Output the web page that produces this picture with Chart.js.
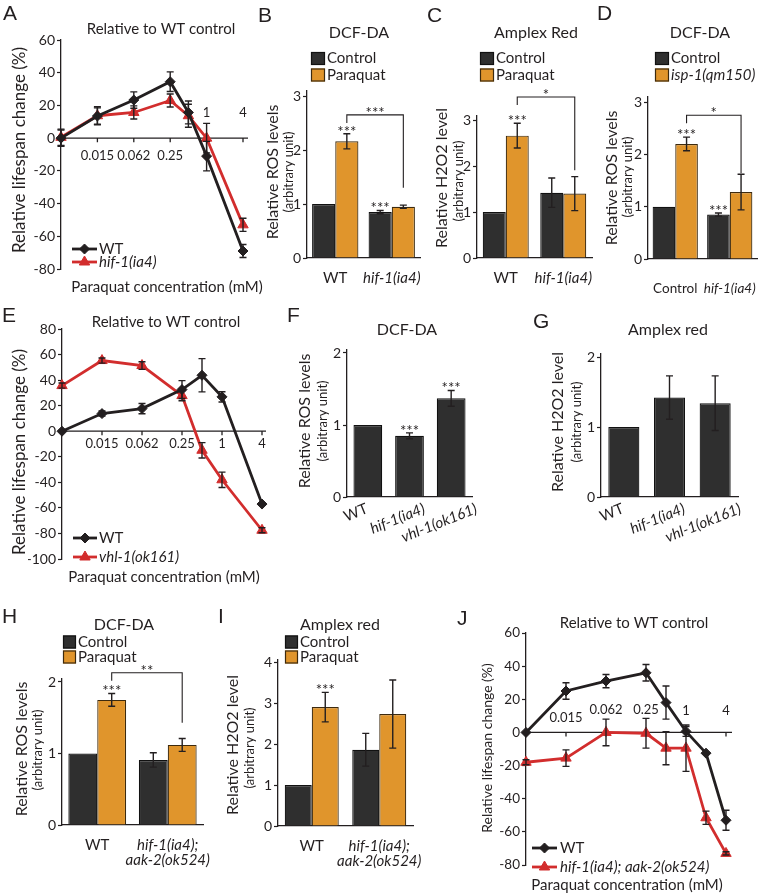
<!DOCTYPE html>
<html>
<head>
<meta charset="utf-8">
<title>Paraquat / ROS panels</title>
<script src="https://cdn.jsdelivr.net/npm/chart.js@4.4.1/dist/chart.umd.min.js"></script>
<style>
  html, body { margin: 0; background: #fff; }
  #fig { position: relative; width: 760px; height: 896px; overflow: hidden; background: #fff; }
  #fig canvas { position: absolute; left: 0; top: 0; }
</style>
</head>
<body>
<div id="fig"></div>
<script>
// ---- values ----

// lifespan panels: position of each dose on the (log4) dose axis, 0 = no paraquat
const doseSteps = [0, 1, 2, 3, 3.5, 4, 5];
const doseStepsJ = [0, 1, 2, 3, 3.5, 4, 4.5, 5];
const doseTickSteps = [1, 2, 3, 4, 5];
const doseTickLabels = ['0.015', '0.062', '0.25', '1', '4'];
const lifeTicks = [-80, -60, -40, -20, 0, 20, 40, 60];
const lifeTicksE = [-100, -80, -60, -40, -20, 0, 20, 40, 60, 80];

// A  hif-1(ia4) vs WT
const aWT = [0, 13.5, 23.3, 34.5, 15.7, -11, -69];
const aWTErr = [5, 5, 5, 6, 7, 9, 4];
const aHif = [0.5, 13.7, 15.7, 23, 13.7, 0, -53];
const aHifErr = [5, 5.5, 4, 4, 7, 9, 4];

// E  vhl-1(ok161) vs WT
const eWT = [0, 13.8, 17.7, 32.6, 43.8, 26.9, -57];
const eWTErr = [0, 2, 4, 7, 13, 4, 1];
const eVhl = [35.7, 55.3, 51.4, 27.9, -14.9, -38, -77.5];
const eVhlErr = [2, 2, 3, 4, 6, 6, 2];

// J  hif-1(ia4); aak-2(ok524) vs WT
const jWT = [0, 25, 31, 36, 18, 0.6, -12.5, -53];
const jWTErr = [0, 5, 4, 5, 10, 3, 0, 6];
const jDouble = [-18, -15.5, 0, -0.5, -9.5, -9.5, -51.5, -73];
const jDoubleErr = [1.5, 5, 8, 9, 10, 14, 4, 1];

// bar panels
const rosTicks3 = [0, 1, 2, 3];
const rosTicks2 = [0, 1, 2];
const h2o2Ticks4 = [0, 1, 2, 3, 4];

const bStrains = ['WT', 'hif-1(ia4)'];
const bControl = [1, 0.85];
const bControlErr = [0, 0.03];
const bParaquat = [2.16, 0.95];
const bParaquatErr = [0.14, 0.03];

const cStrains = ['WT', 'hif-1(ia4)'];
const cControl = [1, 1.42];
const cControlErr = [0, 0.32];
const cParaquat = [2.66, 1.40];
const cParaquatErr = [0.27, 0.37];

const dStrains = ['Control', 'hif-1(ia4)'];
const dControl = [1, 0.85];
const dControlErr = [0, 0.03];
const dIsp = [2.2, 1.28];
const dIspErr = [0.13, 0.34];

const fgStrains = ['WT', 'hif-1(ia4)', 'vhl-1(ok161)'];
const fRos = [1, 0.85, 1.37];
const fRosErr = [0, 0.04, 0.11];
const gH2o2 = [1, 1.42, 1.34];
const gH2o2Err = [0, 0.31, 0.39];

const hiStrains = ['WT', ['hif-1(ia4);', 'aak-2(ok524)']];
const hControl = [1, 0.91];
const hControlErr = [0, 0.1];
const hParaquat = [1.75, 1.12];
const hParaquatErr = [0.09, 0.09];
const iControl = [1, 1.86];
const iControlErr = [0, 0.4];
const iParaquat = [2.9, 2.73];
const iParaquatErr = [0.36, 0.83];

// ---- styling ----
const W = 760, H = 896;
const FONT = 'Lato, "Open Sans", sans-serif';
const LETTER_FONT = '"Liberation Sans", Arial, sans-serif';
const INK = '#231f20';
const DARK = '#2f2f2f';
const ORANGE = '#e0952c';
const ORANGE_EDGE = '#3d2a0e';
const RED = '#d22d2d';
const ROT = -Math.PI / 2;

const isGene = s => /\(/.test(String(s));

function addCanvas() {
  const c = document.createElement('canvas');
  c.width = W;
  c.height = H;
  document.getElementById('fig').appendChild(c);
  return c;
}

function label(ctx, s, x, y, o = {}) {
  ctx.save();
  ctx.font = `${o.italic ? 'italic ' : ''}${o.size || 14}px ${o.family || FONT}`;
  ctx.fillStyle = INK;
  ctx.textAlign = o.align || 'center';
  ctx.textBaseline = o.base || 'middle';
  ctx.translate(x, y);
  if (o.rot) ctx.rotate(o.rot);
  ctx.fillText(s, 0, 0);
  ctx.restore();
}

function errBar(ctx, x, top, bot) {
  ctx.save();
  ctx.strokeStyle = INK;
  ctx.lineWidth = 1.4;
  ctx.beginPath();
  ctx.moveTo(x, top); ctx.lineTo(x, bot);
  ctx.moveTo(x - 3.5, top); ctx.lineTo(x + 3.5, top);
  ctx.moveTo(x - 3.5, bot); ctx.lineTo(x + 3.5, bot);
  ctx.stroke();
  ctx.restore();
}

function marker(ctx, style, r, color, x, y) {
  ctx.save();
  ctx.fillStyle = color;
  ctx.strokeStyle = color;
  Chart.helpers.drawPoint(ctx, { pointStyle: style, radius: r, rotation: 0, borderWidth: 1 }, x, y);
  ctx.restore();
}

// draws everything that is not a bar / line: error bars, stars, brackets, legends, titles
function decor(p) {
  return {
    id: 'decor',
    beforeDatasetsDraw(chart) {
      const d = p.doseAxis;
      if (!d) return;
      const { ctx, scales: { x, y } } = chart;
      const y0 = y.getPixelForValue(0);
      ctx.save();
      ctx.strokeStyle = INK;
      ctx.lineWidth = 1.3;
      ctx.beginPath();
      ctx.moveTo(x.left, y0);
      ctx.lineTo(x.right + d.extend, y0);
      d.ticks.forEach(v => {
        const px = x.getPixelForValue(v);
        ctx.moveTo(px, y0);
        ctx.lineTo(px, y0 + 4);
      });
      ctx.stroke();
      ctx.restore();
      d.ticks.forEach((v, i) => label(ctx, d.labels[i], x.getPixelForValue(v), y0 + d.dy[i], { size: 13 }));
    },
    afterDatasetsDraw(chart) {
      const { ctx, scales: { x, y } } = chart;
      chart.data.datasets.forEach((ds, di) => {
        const meta = chart.getDatasetMeta(di);
        (ds.errors || []).forEach((e, i) => {
          if (!e) return;
          const v = ds.data[i];
          const val = typeof v === 'number' ? v : v.y;
          errBar(ctx, meta.data[i].x, y.getPixelForValue(val + e), y.getPixelForValue(val - e));
        });
      });
      (p.stars || []).forEach(s => {
        const ds = chart.data.datasets[s.ds];
        const el = chart.getDatasetMeta(s.ds).data[s.i];
        const top = y.getPixelForValue(ds.data[s.i] + (ds.errors[s.i] || 0));
        label(ctx, s.t, el.x, top + 3, { size: 15, base: 'alphabetic' });
      });
      (p.brackets || []).forEach(b => {
        const a = chart.getDatasetMeta(b.from[0]).data[b.from[1]];
        const c = chart.getDatasetMeta(b.to[0]).data[b.to[1]];
        const yb = y.getPixelForValue(b.y);
        const yd = y.getPixelForValue(b.drop);
        ctx.save();
        ctx.strokeStyle = INK;
        ctx.lineWidth = 1.1;
        ctx.beginPath();
        ctx.moveTo(a.x, yb + 8);
        ctx.lineTo(a.x, yb);
        ctx.lineTo(c.x, yb);
        ctx.lineTo(c.x, yd);
        ctx.stroke();
        ctx.restore();
        label(ctx, b.t, (a.x + c.x) / 2, yb + 3, { size: 15, base: 'alphabetic' });
      });
      if (p.rotLabels) {
        const r = p.rotLabels;
        const ang = r.deg * Math.PI / 180;
        ctx.save();
        chart.data.labels.forEach((s, i) => {
          ctx.font = `${isGene(s) ? 'italic ' : ''}${r.size}px ${FONT}`;
          const w = ctx.measureText(s).width;
          const cx = x.getPixelForValue(i) + r.dx;
          const cy = y.bottom + r.dy + (w / 2) * Math.sin(ang);
          label(ctx, s, cx, cy, { size: r.size, italic: isGene(s), rot: -ang });
        });
        ctx.restore();
      }
    },
    afterDraw(chart) {
      const ctx = chart.ctx;
      const L = p.letter;
      label(ctx, L[0], L[1], L[2], { size: 21, family: LETTER_FONT, align: 'left', base: 'alphabetic' });
      (p.texts || []).forEach(t => label(ctx, t.t, t.x, t.y, t));
      const lg = p.boxLegend;
      if (lg) {
        lg.rows.forEach((row, i) => {
          const ds = chart.data.datasets[i];
          ctx.save();
          ctx.fillStyle = ds.backgroundColor;
          ctx.strokeStyle = ds.borderColor;
          ctx.lineWidth = 1.2;
          ctx.fillRect(lg.x, row - lg.h / 2, lg.w, lg.h);
          ctx.strokeRect(lg.x + 0.5, row - lg.h / 2 + 0.5, lg.w - 1, lg.h - 1);
          ctx.restore();
          label(ctx, ds.label, lg.x + lg.w + 2, row, { size: lg.size, align: 'left', italic: isGene(ds.label) });
        });
      }
      const ll = p.lineLegend;
      if (ll) {
        ll.rows.forEach((row, i) => {
          const ds = chart.data.datasets[i];
          ctx.save();
          ctx.strokeStyle = ds.borderColor;
          ctx.lineWidth = 2.8;
          ctx.beginPath();
          ctx.moveTo(ll.x0, row);
          ctx.lineTo(ll.x1, row);
          ctx.stroke();
          ctx.restore();
          marker(ctx, ds.pointStyle, ds.pointRadius, ds.borderColor, (ll.x0 + ll.x1) / 2, row);
          label(ctx, ds.label, ll.tx, row, { size: 15, align: 'left', italic: isGene(ds.label) });
        });
      }
    }
  };
}

function yAxis(min, max, tickVals, width, size) {
  return {
    min, max,
    afterBuildTicks: s => { s.ticks = tickVals.map(v => ({ value: v })); },
    afterFit: s => { s.width = width; s.paddingTop = 0; s.paddingBottom = 0; },
    grid: { display: true, drawOnChartArea: false, drawTicks: true, tickLength: 4, tickColor: INK, tickWidth: 1.2 },
    border: { display: true, color: INK, width: 1.3 },
    ticks: { color: INK, padding: 2, font: { family: FONT, size: size || 14 } }
  };
}

function baseOptions(p, yW, xH, scales) {
  return {
    responsive: false,
    animation: false,
    devicePixelRatio: 1,
    events: [],
    layout: { padding: { left: p.area.left - yW, right: W - p.area.right, top: p.area.top, bottom: H - p.area.bottom - xH } },
    plugins: { legend: { display: false }, tooltip: { enabled: false } },
    scales
  };
}

function lineChart(p) {
  const yW = 34;
  const datasets = p.series.map(s => ({
    label: s.name,
    data: p.steps.map((st, i) => ({ x: st, y: s.values[i] })),
    errors: s.errors,
    borderColor: s.color,
    backgroundColor: s.color,
    borderWidth: 2.8,
    pointStyle: s.point,
    pointRadius: s.r,
    pointBackgroundColor: s.color,
    pointBorderColor: s.color,
    pointBorderWidth: 1,
    tension: 0,
    clip: false
  }));
  new Chart(addCanvas(), {
    type: 'line',
    data: { datasets },
    options: baseOptions(p, yW, 0, {
      x: { type: 'linear', min: 0, max: p.steps[p.steps.length - 1], display: false },
      y: yAxis(p.yMin, p.yMax, p.yTicks, yW, p.tickSize)
    }),
    plugins: [decor(p)]
  });
}

function barChart(p) {
  const yW = 30, xH = 46;
  const datasets = p.series.map(s => ({
    label: s.name,
    data: s.values,
    errors: s.errors,
    backgroundColor: s.fill,
    borderColor: s.edge,
    borderWidth: 1.2,
    borderSkipped: 'start',
    categoryPercentage: p.catPct,
    barPercentage: 1
  }));
  new Chart(addCanvas(), {
    type: 'bar',
    data: { labels: p.labels, datasets },
    options: baseOptions(p, yW, xH, {
      x: {
        type: 'category',
        offset: true,
        grid: { display: false },
        border: { display: true, color: INK, width: 1.3 },
        afterFit: s => { s.height = xH; s.paddingLeft = 0; s.paddingRight = 0; },
        ticks: {
          display: !p.rotLabels,
          autoSkip: false,
          minRotation: 0,
          maxRotation: 0,
          color: INK,
          padding: p.xPad || 4,
          font: c => ({ family: FONT, size: p.xSize || 15, lineHeight: 1.05, style: isGene(p.labels[c.index]) ? 'italic' : 'normal' })
        }
      },
      y: yAxis(0, p.yMax, p.yTicks, yW)
    }),
    plugins: [decor(p)]
  });
}

const control = (values, errors) => ({ name: 'Control', values, errors, fill: DARK, edge: '#111' });
const treated = (name, values, errors) => ({ name, values, errors, fill: ORANGE, edge: ORANGE_EDGE });
const yTitle = (t, x, y, size) => ({ t, x, y, size, rot: ROT });

// ---------- A ----------
lineChart({
  area: { left: 61, right: 243, top: 40, bottom: 269 },
  yMin: -80, yMax: 60, yTicks: lifeTicks,
  steps: doseSteps,
  series: [
    { name: 'WT', values: aWT, errors: aWTErr, color: INK, point: 'rectRot', r: 5 },
    { name: 'hif-1(ia4)', values: aHif, errors: aHifErr, color: RED, point: 'triangle', r: 6 }
  ],
  doseAxis: { ticks: doseTickSteps, labels: doseTickLabels, dy: [18, 18, 18, -25, -25], extend: 5 },
  lineLegend: { x0: 72, x1: 97, tx: 99, rows: [249, 262] },
  letter: ['A', 3, 20],
  texts: [
    { t: 'Relative to WT control', x: 161, y: 29, size: 15 },
    yTitle('Relative lifespan change (%)', 20, 150, 17),
    { t: 'Paraquat concentration (mM)', x: 167, y: 287, size: 15 }
  ]
});

// ---------- B ----------
barChart({
  area: { left: 307, right: 420, top: 258 - 3.1 * 54, bottom: 258 },
  yMax: 3.1, yTicks: rosTicks3, catPct: 0.82,
  labels: bStrains,
  series: [control(bControl, bControlErr), treated('Paraquat', bParaquat, bParaquatErr)],
  stars: [{ ds: 1, i: 0, t: '***' }, { ds: 0, i: 1, t: '***' }],
  brackets: [{ from: [1, 0], to: [1, 1], y: 2.65, drop: 1.3, t: '***' }],
  boxLegend: { x: 311, w: 14, h: 13, size: 15, rows: [58.5, 75] },
  letter: ['B', 258, 22],
  texts: [
    { t: 'DCF-DA', x: 359, y: 33, size: 16 },
    yTitle('Relative ROS levels', 273, 172, 16),
    yTitle('(arbitrary unit)', 289, 172, 13)
  ]
});

// ---------- C ----------
barChart({
  area: { left: 477, right: 592, top: 258 - 3.1 * 46, bottom: 258 },
  yMax: 3.1, yTicks: rosTicks3, catPct: 0.8,
  labels: cStrains,
  series: [control(cControl, cControlErr), treated('Paraquat', cParaquat, cParaquatErr)],
  stars: [{ ds: 1, i: 0, t: '***' }],
  brackets: [{ from: [1, 0], to: [1, 1], y: 3.5, drop: 1.91, t: '*' }],
  boxLegend: { x: 480, w: 14, h: 13, size: 15, rows: [58.5, 75] },
  letter: ['C', 427, 22],
  texts: [
    { t: 'Amplex Red', x: 536, y: 33, size: 16 },
    yTitle('Relative H2O2 level', 442, 178, 16),
    yTitle('(arbitrary unit)', 459, 181, 13)
  ]
});

// ---------- D ----------
barChart({
  area: { left: 648, right: 757, top: 259 - 3.1 * 52.3, bottom: 259 },
  yMax: 3.1, yTicks: rosTicks3, catPct: 0.83, xPad: 15, xSize: 13.5,
  labels: dStrains,
  series: [control(dControl, dControlErr), treated('isp-1(qm150)', dIsp, dIspErr)],
  stars: [{ ds: 1, i: 0, t: '***' }, { ds: 0, i: 1, t: '***' }],
  brackets: [{ from: [1, 0], to: [1, 1], y: 2.75, drop: 1.64, t: '*' }],
  boxLegend: { x: 655, w: 14, h: 13, size: 15, rows: [58.5, 75] },
  letter: ['D', 597, 20],
  texts: [
    { t: 'DCF-DA', x: 700, y: 33, size: 16 },
    yTitle('Relative ROS levels', 612, 178, 16),
    yTitle('(arbitrary unit)', 628, 177, 13)
  ]
});

// ---------- E ----------
lineChart({
  area: { left: 62, right: 262, top: 329, bottom: 559 },
  yMin: -100, yMax: 80, yTicks: lifeTicksE,
  steps: doseSteps,
  series: [
    { name: 'WT', values: eWT, errors: eWTErr, color: INK, point: 'rectRot', r: 5 },
    { name: 'vhl-1(ok161)', values: eVhl, errors: eVhlErr, color: RED, point: 'triangle', r: 6 }
  ],
  doseAxis: { ticks: doseTickSteps, labels: doseTickLabels, dy: [13, 13, 13, 13, 13], extend: 4 },
  lineLegend: { x0: 73, x1: 97, tx: 99, rows: [538, 557] },
  letter: ['E', 2, 322],
  texts: [
    { t: 'Relative to WT control', x: 166, y: 322, size: 15 },
    yTitle('Relative lifespan change (%)', 20, 452, 17),
    { t: 'Paraquat concentration (mM)', x: 164, y: 577, size: 15 }
  ]
});

// ---------- F ----------
barChart({
  area: { left: 347, right: 472, top: 497 - 2.05 * 72, bottom: 497 },
  yMax: 2.05, yTicks: rosTicks2, catPct: 0.69,
  labels: fgStrains,
  series: [{ name: 'ROS', values: fRos, errors: fRosErr, fill: DARK, edge: '#111' }],
  stars: [{ ds: 0, i: 1, t: '***' }, { ds: 0, i: 2, t: '***' }],
  rotLabels: { deg: 22, dx: -12, dy: 11, size: 15 },
  letter: ['F', 287, 322],
  texts: [
    { t: 'DCF-DA', x: 407, y: 330, size: 16 },
    yTitle('Relative ROS levels', 305, 421, 16),
    yTitle('(arbitrary unit)', 323, 421, 13)
  ]
});

// ---------- G ----------
barChart({
  area: { left: 601, right: 738, top: 497 - 2.05 * 70, bottom: 497 },
  yMax: 2.05, yTicks: rosTicks2, catPct: 0.68,
  labels: fgStrains,
  series: [{ name: 'H2O2', values: gH2o2, errors: gH2o2Err, fill: DARK, edge: '#111' }],
  rotLabels: { deg: 22, dx: -12, dy: 11, size: 15 },
  letter: ['G', 533, 328],
  texts: [
    { t: 'Amplex red', x: 668, y: 330, size: 16 },
    yTitle('Relative H2O2 level', 558, 422, 16),
    yTitle('(arbitrary unit)', 577, 422, 13)
  ]
});

// ---------- H ----------
barChart({
  area: { left: 62, right: 203, top: 825 - 2.05 * 71.5, bottom: 825 },
  yMax: 2.05, yTicks: rosTicks2, catPct: 0.82, xPad: 4,
  labels: hiStrains,
  series: [control(hControl, hControlErr), treated('Paraquat', hParaquat, hParaquatErr)],
  stars: [{ ds: 1, i: 0, t: '***' }],
  brackets: [{ from: [1, 0], to: [1, 1], y: 2.13, drop: 1.43, t: '**' }],
  boxLegend: { x: 63, w: 13, h: 13, size: 15, rows: [642, 657] },
  letter: ['H', 2, 623],
  texts: [
    { t: 'DCF-DA', x: 124, y: 625, size: 16 },
    yTitle('Relative ROS levels', 22, 749, 16),
    yTitle('(arbitrary unit)', 38, 750, 13)
  ]
});

// ---------- I ----------
barChart({
  area: { left: 278, right: 413, top: 826 - 4.05 * 41, bottom: 826 },
  yMax: 4.05, yTicks: h2o2Ticks4, catPct: 0.8, xPad: 4,
  labels: hiStrains,
  series: [control(iControl, iControlErr), treated('Paraquat', iParaquat, iParaquatErr)],
  stars: [{ ds: 1, i: 0, t: '***' }],
  boxLegend: { x: 285, w: 13, h: 13, size: 15, rows: [642, 657] },
  letter: ['I', 218, 623],
  texts: [
    { t: 'Amplex red', x: 340, y: 625, size: 16 },
    yTitle('Relative H2O2 level', 233, 745, 16),
    yTitle('(arbitrary unit)', 250, 748, 13)
  ]
});

// ---------- J ----------
lineChart({
  area: { left: 526, right: 726, top: 633, bottom: 865 },
  yMin: -80, yMax: 60, yTicks: lifeTicks, tickSize: 13.5,
  steps: doseStepsJ,
  series: [
    { name: 'WT', values: jWT, errors: jWTErr, color: INK, point: 'rectRot', r: 5 },
    { name: 'hif-1(ia4); aak-2(ok524)', values: jDouble, errors: jDoubleErr, color: RED, point: 'triangle', r: 6 }
  ],
  doseAxis: { ticks: doseTickSteps, labels: doseTickLabels, dy: [-15, -23, -23, -22, -22], extend: 6 },
  lineLegend: { x0: 532, x1: 557, tx: 560, rows: [848, 867] },
  letter: ['J', 457, 625],
  texts: [
    { t: 'Relative to WT control', x: 634, y: 623, size: 15 },
    yTitle('Relative lifespan change (%)', 487, 748, 14),
    { t: 'Paraquat concentration (mM)', x: 627, y: 885, size: 15 }
  ]
});
</script>
</body>
</html>
